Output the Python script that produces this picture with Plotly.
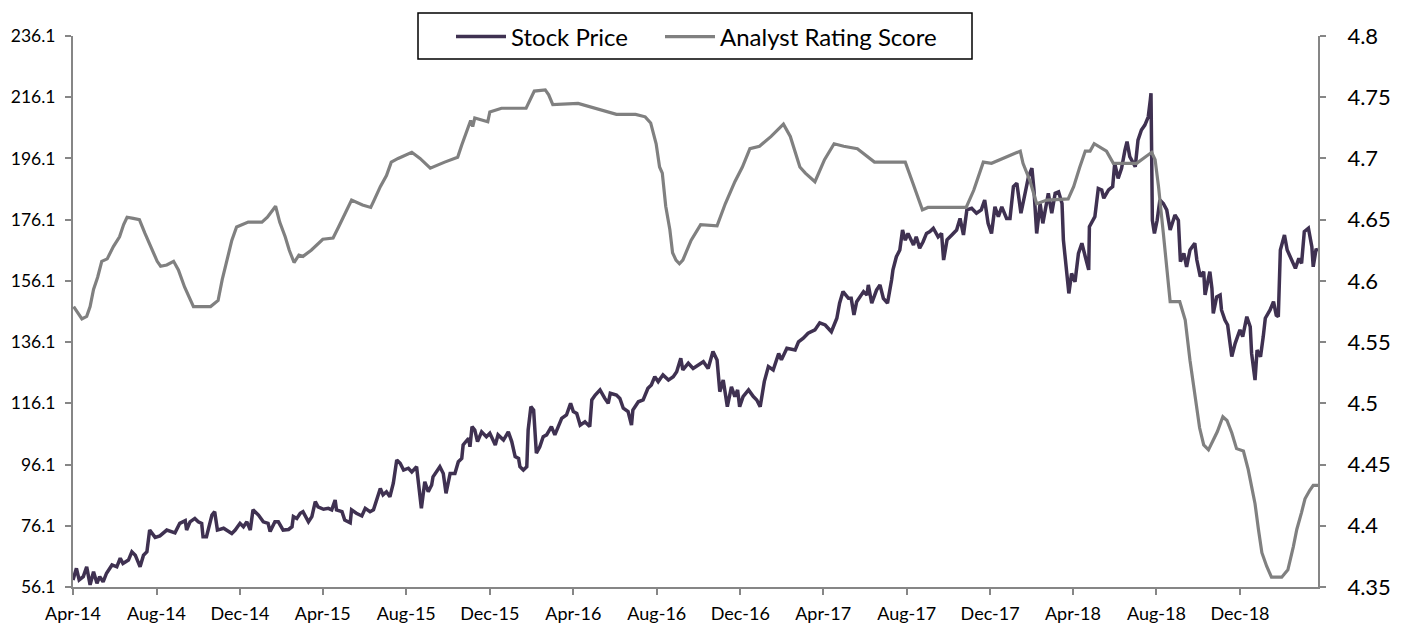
import datetime as dt
import plotly.graph_objects as go

START = dt.date(2014, 4, 1)

# Stock price: days since 2014-04-01 and price
stock_days = [0, 5, 9, 15, 20, 25, 30, 35, 39, 44, 49, 57, 64, 69, 73, 81, 86, 91, 98, 103, 108, 112, 120, 127, 137, 142, 149, 156, 164, 166, 171, 178, 183, 188, 190, 195, 203, 207, 211, 220, 232, 237, 244, 249, 254, 259, 263, 271, 278, 285, 288, 295, 300, 307, 315, 320, 322, 327, 332, 336, 344, 349, 354, 358, 366, 373, 378, 383, 385, 393, 397, 405, 407, 414, 422, 427, 434, 439, 444, 449, 453, 458, 463, 468, 473, 478, 483, 490, 495, 502, 509, 514, 519, 524, 526, 536, 541, 545, 551, 558, 563, 568, 570, 578, 580, 583, 587, 591, 597, 604, 609, 617, 621, 629, 636, 641, 646, 651, 653, 658, 663, 665, 669, 673, 677, 682, 687, 692, 699, 704, 709, 714, 721, 727, 731, 736, 741, 748, 755, 758, 763, 770, 777, 782, 785, 794, 799, 804, 811, 816, 818, 826, 833, 840, 845, 850, 855, 862, 870, 877, 882, 888, 891, 899, 906, 914, 921, 928, 935, 941, 945, 950, 956, 962, 967, 971, 974, 979, 987, 994, 999, 1004, 1010, 1016, 1023, 1031, 1035, 1043, 1055, 1060, 1067, 1074, 1084, 1091, 1099, 1108, 1116, 1120, 1125, 1133, 1137, 1141, 1145, 1155, 1160, 1162, 1167, 1174, 1179, 1184, 1190, 1196, 1198, 1203, 1208, 1212, 1216, 1220, 1228, 1232, 1237, 1242, 1247, 1252, 1257, 1264, 1269, 1272, 1277, 1284, 1291, 1296, 1301, 1306, 1313, 1320, 1327, 1332, 1337, 1342, 1347, 1352, 1357, 1364, 1369, 1374, 1379, 1385, 1391, 1396, 1401, 1404, 1408, 1413, 1417, 1422, 1425, 1430, 1435, 1440, 1445, 1447, 1452, 1455, 1459, 1464, 1469, 1474, 1479, 1484, 1485, 1490, 1493, 1498, 1503, 1506, 1513, 1519, 1522, 1527, 1532, 1537, 1540, 1544, 1552, 1556, 1561, 1566, 1571, 1574, 1575, 1577, 1580, 1584, 1588, 1593, 1598, 1603, 1610, 1615, 1618, 1623, 1627, 1632, 1639, 1642, 1647, 1652, 1654, 1661, 1664, 1666, 1671, 1676, 1678, 1683, 1687, 1693, 1698, 1705, 1709, 1715, 1720, 1722, 1727, 1730, 1735, 1739, 1742, 1749, 1754, 1758, 1761, 1764, 1770, 1774, 1781, 1786, 1791, 1795, 1799, 1805, 1810, 1812, 1816, 1819]
stock_price = [58.4, 62.2, 58.4, 59.5, 62.7, 56.8, 61.1, 57.3, 59.5, 57.8, 60.6, 63.3, 62.7, 65.5, 63.8, 64.9, 67.6, 66.5, 62.7, 66.5, 67.6, 74.7, 72.3, 72.8, 74.7, 74.2, 73.8, 76.9, 77.8, 74.7, 77.4, 78.5, 77.4, 76.9, 72.5, 72.5, 79.6, 80.7, 74.7, 75.3, 73.6, 74.7, 76.9, 75.8, 77.4, 74.7, 81.3, 79.6, 77.4, 76.9, 74.2, 77.4, 77.4, 74.7, 74.9, 75.8, 79.1, 78.5, 80.2, 80.7, 77.4, 79.1, 84.0, 82.3, 81.5, 81.8, 81.3, 84.5, 81.3, 80.7, 78.0, 77.1, 81.3, 80.2, 79.3, 81.8, 80.7, 81.3, 84.5, 88.3, 86.2, 87.2, 85.6, 90.0, 97.6, 96.5, 94.3, 94.9, 93.7, 95.4, 81.8, 90.5, 87.2, 89.4, 92.1, 95.4, 93.2, 86.7, 93.2, 93.2, 97.0, 98.1, 102.5, 104.7, 101.9, 108.5, 107.4, 103.6, 106.8, 105.2, 106.3, 102.5, 105.8, 104.1, 106.8, 103.6, 98.7, 98.1, 95.4, 94.3, 95.4, 107.4, 115.0, 113.9, 99.8, 101.9, 105.2, 105.8, 108.5, 105.8, 108.5, 111.2, 112.3, 116.1, 113.4, 112.8, 109.0, 110.1, 108.5, 117.2, 118.8, 120.5, 117.7, 116.1, 119.4, 118.8, 117.7, 114.5, 113.4, 109.0, 113.9, 116.6, 117.2, 121.0, 122.1, 124.8, 123.2, 125.4, 123.7, 124.8, 126.4, 130.8, 127.0, 129.2, 127.5, 128.6, 129.7, 127.5, 133.0, 130.3, 119.9, 123.7, 115.0, 121.5, 118.3, 120.5, 115.0, 118.3, 120.5, 118.3, 117.2, 115.0, 123.2, 128.1, 127.0, 132.4, 130.3, 134.1, 133.5, 136.2, 137.4, 139.0, 140.1, 142.4, 141.7, 139.5, 143.9, 148.8, 152.6, 150.4, 150.4, 145.0, 149.3, 152.6, 151.5, 154.8, 148.8, 153.1, 154.8, 150.4, 148.8, 156.4, 159.7, 164.0, 166.2, 172.7, 169.4, 171.6, 167.8, 170.5, 166.8, 168.9, 171.6, 172.2, 173.3, 170.5, 171.6, 162.9, 169.5, 171.1, 172.7, 176.5, 171.1, 179.3, 179.8, 178.2, 179.3, 182.5, 174.9, 171.6, 180.3, 177.1, 180.3, 176.5, 176.5, 186.9, 188.0, 178.2, 184.7, 190.1, 192.9, 185.8, 171.6, 181.4, 174.9, 180.9, 184.7, 178.2, 184.7, 185.2, 181.4, 169.5, 159.1, 152.0, 158.5, 155.8, 165.1, 168.4, 164.0, 159.7, 173.8, 176.0, 177.1, 186.3, 185.8, 183.1, 185.8, 186.9, 194.5, 189.6, 192.9, 198.9, 201.6, 196.7, 193.4, 202.1, 205.4, 207.0, 209.7, 215.2, 217.4, 175.9, 171.6, 175.9, 182.5, 181.4, 179.3, 172.7, 177.6, 175.9, 162.4, 165.1, 160.7, 166.2, 168.4, 162.9, 157.5, 159.1, 151.5, 159.1, 153.7, 145.5, 150.9, 151.5, 146.6, 143.3, 141.7, 131.4, 135.7, 140.1, 137.9, 144.4, 141.1, 132.4, 123.7, 133.5, 131.3, 137.9, 143.9, 146.6, 149.3, 144.9, 144.4, 166.2, 171.1, 166.2, 162.9, 160.2, 163.5, 161.8, 172.2, 173.3, 167.3, 160.7, 166.2, 166.4]

# Analyst rating score: days since 2014-04-01 and score
score_days = [1, 7, 13, 20, 25, 30, 36, 42, 50, 59, 68, 74, 79, 88, 97, 105, 114, 123, 128, 137, 147, 154, 163, 172, 176, 201, 212, 218, 224, 232, 239, 256, 276, 284, 296, 302, 310, 316, 323, 330, 336, 348, 365, 380, 388, 397, 407, 423, 435, 440, 449, 458, 465, 475, 495, 507, 522, 543, 562, 568, 578, 581, 584, 587, 606, 609, 626, 662, 674, 690, 695, 701, 738, 769, 794, 822, 836, 844, 852, 857, 861, 866, 872, 876, 881, 886, 891, 903, 917, 941, 953, 967, 978, 989, 1003, 1020, 1038, 1048, 1062, 1070, 1084, 1098, 1112, 1126, 1146, 1171, 1216, 1227, 1241, 1249, 1305, 1316, 1330, 1342, 1364, 1384, 1388, 1398, 1408, 1423, 1454, 1462, 1471, 1479, 1486, 1492, 1510, 1520, 1554, 1576, 1581, 1586, 1593, 1598, 1603, 1617, 1625, 1632, 1639, 1646, 1652, 1659, 1666, 1672, 1680, 1686, 1693, 1700, 1710, 1717, 1722, 1727, 1732, 1737, 1744, 1751, 1766, 1775, 1783, 1788, 1795, 1800, 1807, 1812, 1819]
score_values = [4.579, 4.574, 4.569, 4.571, 4.579, 4.593, 4.603, 4.616, 4.618, 4.628, 4.636, 4.646, 4.652, 4.651, 4.650, 4.639, 4.628, 4.616, 4.612, 4.613, 4.616, 4.609, 4.595, 4.583, 4.579, 4.579, 4.584, 4.601, 4.614, 4.633, 4.644, 4.648, 4.648, 4.652, 4.661, 4.648, 4.636, 4.625, 4.615, 4.621, 4.620, 4.625, 4.634, 4.635, 4.644, 4.655, 4.666, 4.662, 4.660, 4.666, 4.677, 4.686, 4.697, 4.700, 4.705, 4.700, 4.692, 4.697, 4.701, 4.711, 4.726, 4.731, 4.726, 4.733, 4.730, 4.738, 4.741, 4.741, 4.755, 4.756, 4.752, 4.744, 4.745, 4.740, 4.736, 4.736, 4.734, 4.729, 4.712, 4.693, 4.688, 4.661, 4.642, 4.623, 4.617, 4.614, 4.617, 4.633, 4.646, 4.645, 4.663, 4.681, 4.693, 4.708, 4.710, 4.718, 4.728, 4.718, 4.693, 4.688, 4.681, 4.699, 4.712, 4.710, 4.708, 4.697, 4.697, 4.680, 4.658, 4.660, 4.660, 4.674, 4.697, 4.696, 4.701, 4.706, 4.696, 4.682, 4.663, 4.666, 4.667, 4.677, 4.693, 4.706, 4.706, 4.712, 4.706, 4.696, 4.696, 4.705, 4.699, 4.677, 4.639, 4.612, 4.583, 4.583, 4.568, 4.535, 4.505, 4.480, 4.466, 4.462, 4.470, 4.477, 4.489, 4.486, 4.476, 4.463, 4.461, 4.446, 4.432, 4.418, 4.397, 4.378, 4.367, 4.358, 4.358, 4.364, 4.383, 4.397, 4.411, 4.422, 4.429, 4.433, 4.433]

x_tick_dates = ["2014-04-01", "2014-08-01", "2014-12-01", "2015-04-01", "2015-08-01", "2015-12-01",
                "2016-04-01", "2016-08-01", "2016-12-01", "2017-04-01", "2017-08-01", "2017-12-01",
                "2018-04-01", "2018-08-01", "2018-12-01"]
x_tick_labels = ["Apr-14", "Aug-14", "Dec-14", "Apr-15", "Aug-15", "Dec-15", "Apr-16", "Aug-16",
                 "Dec-16", "Apr-17", "Aug-17", "Dec-17", "Apr-18", "Aug-18", "Dec-18"]
left_ticks = [56.1, 76.1, 96.1, 116.1, 136.1, 156.1, 176.1, 196.1, 216.1, 236.1]
left_tick_labels = ["56.1", "76.1", "96.1", "116.1", "136.1", "156.1", "176.1", "196.1", "216.1", "236.1"]
right_ticks = [4.35, 4.4, 4.45, 4.5, 4.55, 4.6, 4.65, 4.7, 4.75, 4.8]
right_tick_labels = ["4.35", "4.4", "4.45", "4.5", "4.55", "4.6", "4.65", "4.7", "4.75", "4.8"]

stock_dates = [START + dt.timedelta(days=d) for d in stock_days]
score_dates = [START + dt.timedelta(days=d) for d in score_days]

AXIS = "#868686"
FONT = "Lato, 'Open Sans', sans-serif"
PAGE_W, PAGE_H, OFF = 1405, 625, 8          # the page body has an 8px margin
PL, PR, PT, PB = 73, 1318, 36, 587          # plot area in page pixels
W, H = PAGE_W - OFF, PAGE_H - OFF
ML, MR, MT, MB = PL - OFF, PAGE_W - PR, PT - OFF, PAGE_H - PB
PW, PH = PR - PL, PB - PT


def px_x(p):
    return (p - PL) / PW


def px_y(p):
    return (PB - p) / PH


fig = go.Figure()
fig.add_trace(go.Scatter(x=stock_dates, y=stock_price, name="Stock Price", mode="lines",
                         line=dict(color="#3F3151", width=3.5), legend="legend"))
fig.add_trace(go.Scatter(x=score_dates, y=score_values, name="Analyst Rating Score", mode="lines",
                         line=dict(color="#808080", width=3.2), yaxis="y2", legend="legend2"))

# legend frame
fig.add_shape(type="rect", xref="paper", yref="paper",
              x0=px_x(418), x1=px_x(972), y0=px_y(59), y1=px_y(13),
              line=dict(color="#000000", width=1.5), fillcolor="white", layer="above")

leg_common = dict(orientation="h", xanchor="left", yanchor="middle", borderwidth=0,
                  bgcolor="rgba(0,0,0,0)", itemwidth=50,
                  font=dict(size=24, family=FONT, color="#000000"))

fig.update_layout(
    width=W, height=H,
    margin=dict(l=ML, r=MR, t=MT, b=MB, autoexpand=False),
    paper_bgcolor="white", plot_bgcolor="white",
    font=dict(family=FONT, color="#000000"),
    showlegend=True,
    legend=dict(x=px_x(451), y=px_y(37), **leg_common),
    legend2=dict(x=px_x(660), y=px_y(37), **leg_common),
    xaxis=dict(type="date", range=["2014-04-01", "2019-03-25"], automargin=False,
               tickvals=x_tick_dates, ticktext=x_tick_labels,
               showgrid=False, zeroline=False, showline=True, linecolor=AXIS, linewidth=2,
               ticks="outside", ticklen=6, tickcolor=AXIS, tickwidth=2, ticklabelstandoff=3,
               tickfont=dict(size=18, family=FONT, color="#000000")),
    yaxis=dict(range=[56.1, 236.1], tickvals=left_ticks, ticktext=left_tick_labels, automargin=False,
               showgrid=False, zeroline=False, showline=True, linecolor=AXIS, linewidth=2,
               ticks="outside", ticklen=6, tickcolor=AXIS, tickwidth=2, ticklabelstandoff=6,
               tickfont=dict(size=17.5, family=FONT, color="#000000")),
    yaxis2=dict(range=[4.35, 4.8], overlaying="y", side="right", anchor="x", automargin=False,
                tickvals=right_ticks, ticktext=right_tick_labels,
                showgrid=False, zeroline=False, showline=True, linecolor=AXIS, linewidth=2,
                ticks="outside", ticklen=6, tickcolor=AXIS, tickwidth=2, ticklabelstandoff=17,
                tickfont=dict(size=22, family=FONT, color="#000000")),
)

fig.write_html("out.html")
